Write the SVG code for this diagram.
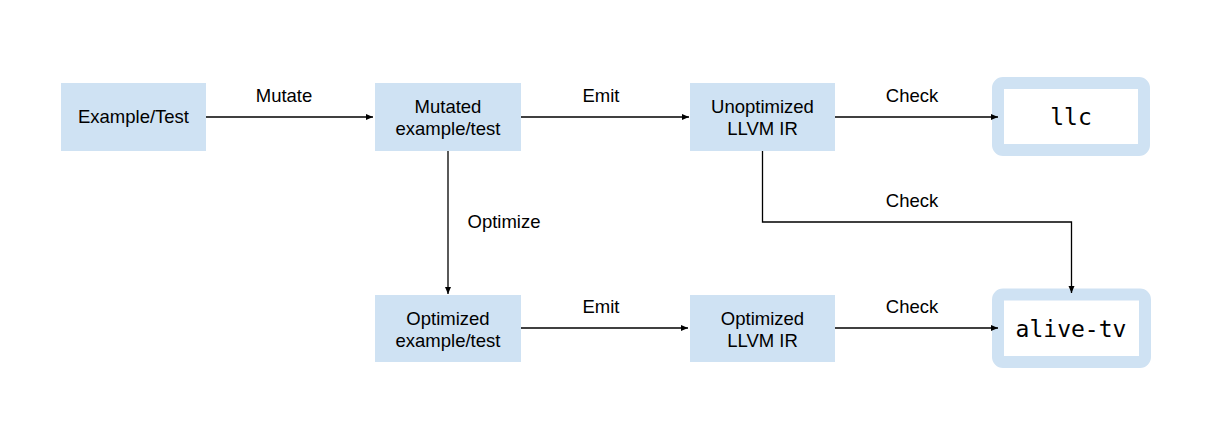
<svg xmlns="http://www.w3.org/2000/svg" width="1221" height="440" viewBox="0 0 1221 440">
<style>
.box{fill:#cfe2f3}
.tool{fill:#ffffff;stroke:#cfe2f3;stroke-width:12}
.t{font-family:"Liberation Sans",Arial,sans-serif;font-size:18.5px;fill:#000;text-anchor:middle}
.m{font-family:"DejaVu Sans Mono","Liberation Mono",monospace;font-size:23px;fill:#000;text-anchor:middle}
.c{fill:none;stroke:#000;stroke-width:1.3}
</style>
<defs>
<marker id="ah" markerWidth="8" markerHeight="8" refX="7" refY="4" orient="auto" markerUnits="userSpaceOnUse">
<path d="M0,1 L7,4 L0,7 Z" fill="#000"/>
</marker>
</defs>
<rect width="1221" height="440" fill="#fff"/>
<g id="example">
<rect class="box" x="61" y="83" width="145" height="68"/>
<text class="t" x="133.5" y="123">Example/Test</text>
</g>
<g id="mutated">
<rect class="box" x="375" y="83" width="146" height="68"/>
<text class="t" x="448" y="113">Mutated</text>
<text class="t" x="448" y="135">example/test</text>
</g>
<g id="unoptimized">
<rect class="box" x="690" y="83" width="145" height="68"/>
<text class="t" x="762.5" y="113">Unoptimized</text>
<text class="t" x="762.5" y="135">LLVM IR</text>
</g>
<g id="llc">
<rect class="tool" x="998" y="83" width="146" height="67" rx="5"/>
<text class="m" x="1071" y="125">llc</text>
</g>
<g id="optimized-example">
<rect class="box" x="375" y="295" width="146" height="67"/>
<text class="t" x="448" y="325">Optimized</text>
<text class="t" x="448" y="347">example/test</text>
</g>
<g id="optimized-ir">
<rect class="box" x="690" y="295" width="145" height="67"/>
<text class="t" x="762.5" y="325">Optimized</text>
<text class="t" x="762.5" y="347">LLVM IR</text>
</g>
<g id="alive-tv">
<rect class="tool" x="998" y="294.5" width="147" height="67.5" rx="5"/>
<text class="m" x="1071" y="337">alive-tv</text>
</g>
<g id="connectors">
<line class="c" x1="206" y1="117" x2="373" y2="117" marker-end="url(#ah)"/>
<line class="c" x1="521" y1="117" x2="689" y2="117" marker-end="url(#ah)"/>
<line class="c" x1="835" y1="117" x2="998" y2="117" marker-end="url(#ah)"/>
<line class="c" x1="448" y1="151" x2="448" y2="294" marker-end="url(#ah)"/>
<line class="c" x1="521" y1="328" x2="688" y2="328" marker-end="url(#ah)"/>
<line class="c" x1="835" y1="328" x2="998" y2="328" marker-end="url(#ah)"/>
<polyline class="c" points="762.5,151 762.5,222 1071.5,222 1071.5,293" marker-end="url(#ah)"/>
<text class="t" x="284" y="102">Mutate</text>
<text class="t" x="601" y="102">Emit</text>
<text class="t" x="912" y="102">Check</text>
<text class="t" x="504" y="228">Optimize</text>
<text class="t" x="912" y="207">Check</text>
<text class="t" x="601" y="313">Emit</text>
<text class="t" x="912" y="313">Check</text>
</g>
</svg>
